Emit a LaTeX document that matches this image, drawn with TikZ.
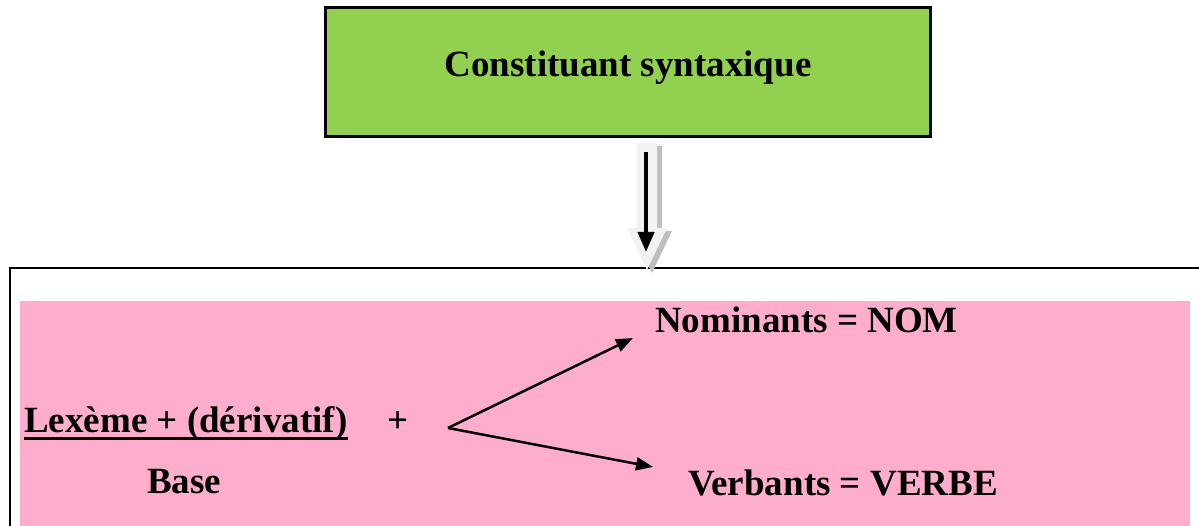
\documentclass[tikz,border=0pt]{standalone}
\usepackage{fontspec}
\setmainfont{Liberation Serif}
\usetikzlibrary{arrows.meta}
\definecolor{boxgreen}{RGB}{146,208,80}
\definecolor{boxpink}{RGB}{255,173,205}
\definecolor{arrowfill}{RGB}{242,242,242}
\definecolor{arrowshade}{RGB}{190,190,190}
\tikzset{
  lbl/.style={anchor=base west, inner sep=0pt, font=\fontsize{37}{44}\selectfont\bfseries},
  conn/.style={line width=2.5pt, -{Triangle[length=17pt,width=13pt]}},
}
\begin{document}
\begin{tikzpicture}[x=1pt,y=-1pt]
\useasboundingbox (0,0) rectangle (1199,526);
\clip (0,0) rectangle (1199,526);
% outer frame
\draw[line width=2.5pt] (10,268) rectangle (1230,560);
% pink area
\fill[boxpink] (20,301) rectangle (1190,540);
% green box
\node[draw, line width=3pt, fill=boxgreen, minimum width=605pt, minimum height=129pt, inner sep=0pt] (top) at (628,72.5) {};
\node[lbl, anchor=base] (toptxt) at (628,77) {Constituant syntaxique};
% hollow block arrow with shadow
\fill[arrowshade] (642,146) -- (662,146) -- (662,231) -- (672,231) -- (652,273) -- (632,231) -- (642,231) -- cycle;
\fill[arrowfill] (637,143) -- (657,143) -- (657,228) -- (667,228) -- (647,270) -- (627,228) -- (637,228) -- cycle;
\coordinate (ar1) at (646,152);
\coordinate (ar2) at (646,252);
\draw[line width=4pt, -{Triangle[length=20pt,width=16pt]}] (ar1) -- (ar2);
% texts
\node[lbl] (lex) at (24,432) {Lexème + (dérivatif)};
\draw[line width=3pt] ([yshift=-6pt]lex.base west) -- ([yshift=-6pt]lex.base east);
\node[lbl] (plus) at (387,432) {+};
\node[lbl] (base) at (147,493) {Base};
\node[lbl] (nom) at (655,333) {Nominants = NOM};
\node[lbl] (verb) at (688,495) {Verbants = VERBE};
\coordinate (fork) at (448,428);
\coordinate (nomtip) at (633,338);
\coordinate (verbtip) at (653,467);
\draw[conn] (fork) -- (nomtip);
\draw[conn] (fork) -- (verbtip);
\end{tikzpicture}
\end{document}
